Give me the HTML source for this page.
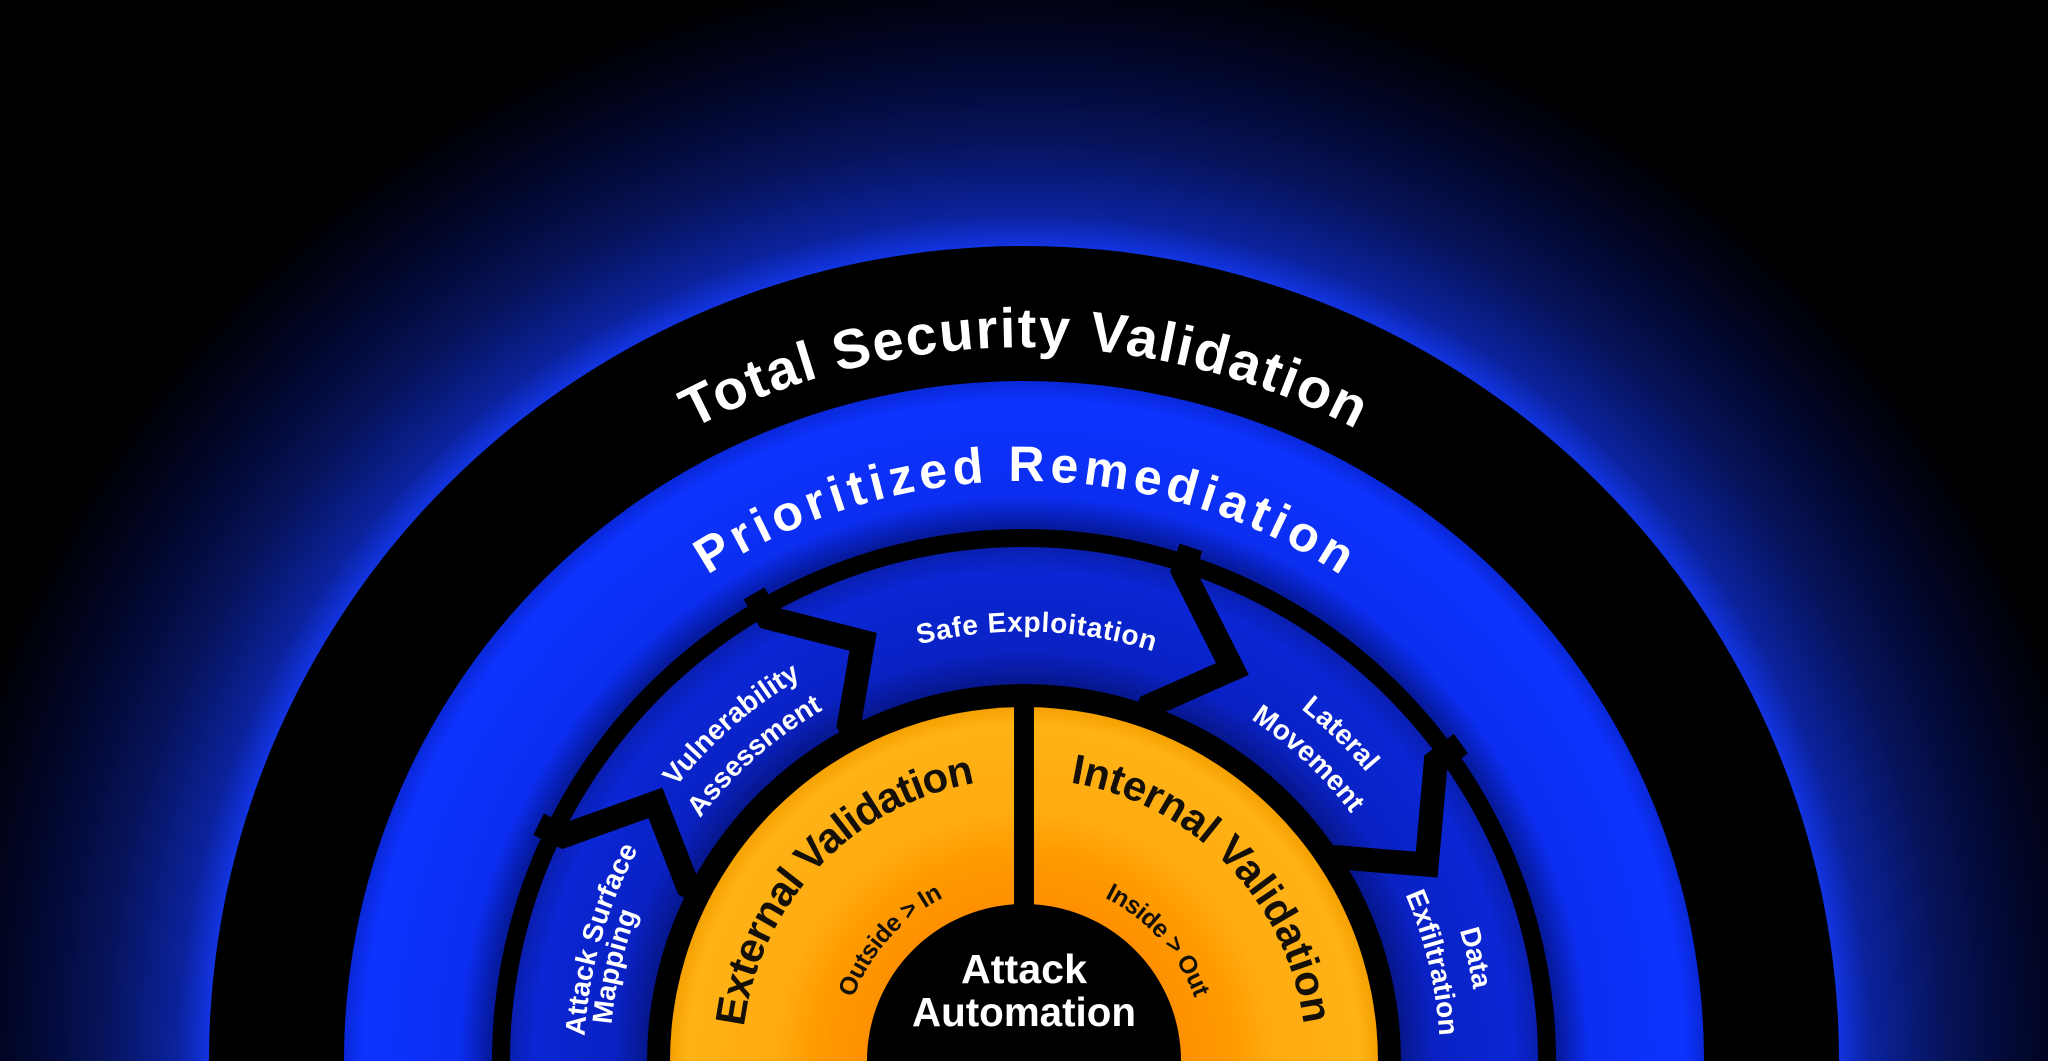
<!DOCTYPE html>
<html><head><meta charset="utf-8"><style>
html,body{margin:0;padding:0;background:#000;overflow:hidden;width:2048px;height:1061px;}
svg{display:block;}
text{font-family:"Liberation Sans",Arial,sans-serif;font-weight:bold;}
</style></head><body>
<svg width="2048" height="1061" viewBox="0 0 2048 1061" xmlns="http://www.w3.org/2000/svg">
<defs>
<radialGradient id="glow" gradientUnits="userSpaceOnUse" cx="1024" cy="1061" r="1100">
<stop offset="0" stop-color="#1234e0"/><stop offset="0.741" stop-color="#1234e0"/>
<stop offset="0.77" stop-color="#0b229c"/><stop offset="0.84" stop-color="#061358"/>
<stop offset="0.92" stop-color="#020628"/><stop offset="1" stop-color="#000"/>
</radialGradient>
<radialGradient id="blue" gradientUnits="userSpaceOnUse" cx="1024" cy="1061" r="680">
<stop offset="0" stop-color="#061a9e"/><stop offset="0.786" stop-color="#061a9e"/>
<stop offset="0.83" stop-color="#0b2ef0"/><stop offset="0.97" stop-color="#0d33ff"/>
<stop offset="1" stop-color="#0a28d8"/>
</radialGradient>
<radialGradient id="band" gradientUnits="userSpaceOnUse" cx="1024" cy="1061" r="514">
<stop offset="0" stop-color="#06168a"/><stop offset="0.73" stop-color="#06168a"/>
<stop offset="0.8" stop-color="#0a22c4"/><stop offset="0.95" stop-color="#0b26d4"/>
<stop offset="1" stop-color="#0a1fb0"/>
</radialGradient>
<radialGradient id="orange" gradientUnits="userSpaceOnUse" cx="1024" cy="1061" r="354">
<stop offset="0" stop-color="#ff9000"/><stop offset="0.44" stop-color="#ff9000"/>
<stop offset="0.6" stop-color="#ff9c00"/><stop offset="0.7" stop-color="#ffab10"/>
<stop offset="0.95" stop-color="#ffb215"/><stop offset="1" stop-color="#f5a000"/>
</radialGradient>
<path id="p714" d="M312.7,1123.3 A714,714 0 1 1 1735.3,1123.3"/>
<path id="p580" d="M446.2,1111.6 A580,580 0 1 1 1601.8,1111.6"/>
<path id="p430" d="M595.6,1098.5 A430,430 0 1 1 1452.4,1098.5"/>
<path id="p443" d="M582.7,1099.6 A443,443 0 1 1 1465.3,1099.6"/>
<path id="p405" d="M620.5,1096.3 A405,405 0 1 1 1427.5,1096.3"/>
<path id="p440" d="M585.7,1099.4 A440,440 0 1 1 1462.3,1099.4"/>
<path id="p414" d="M611.6,1097.1 A414,414 0 1 1 1436.4,1097.1"/>
<path id="p448" d="M577.7,1100.1 A448,448 0 1 1 1470.3,1100.1"/>
<path id="p410" d="M615.6,1096.8 A410,410 0 1 1 1432.4,1096.8"/>
<path id="p455" d="M570.7,1100.7 A455,455 0 1 1 1477.3,1100.7"/>
<path id="p416" d="M609.6,1097.3 A416,416 0 1 1 1438.4,1097.3"/>
<path id="p282" d="M743.1,1085.6 A282,282 0 1 1 1304.9,1085.6"/>
<path id="p182" d="M842.7,1076.9 A182,182 0 1 1 1205.3,1076.9"/>
</defs>
<rect width="2048" height="1061" fill="#000"/>
<circle cx="1024" cy="1061" r="1100" fill="url(#glow)"/>
<circle cx="1024" cy="1061" r="815" fill="#000"/>
<circle cx="1024" cy="1061" r="680" fill="url(#blue)"/>
<circle cx="1024" cy="1061" r="532" fill="#000"/>
<circle cx="1024" cy="1061" r="514" fill="url(#band)"/>
<g fill="none" stroke="#000" stroke-width="24" stroke-linejoin="miter" stroke-miterlimit="10">
<polyline points="538.6,824.3 562.9,836.1 655.4,802.9 687.8,886 704.7,894.8"/>
<polyline points="754,593.4 768,617.6 863.1,641.8 849,724.8 857.8,741.7"/>
<polyline points="1190.9,547.4 1183.1,571.2 1232.5,669 1149.8,705.6 1144.2,721.7"/>
<polyline points="1460.9,743.6 1435.8,761.8 1426.7,864.6 1337.7,857.3 1325.9,865"/>
</g>
<circle cx="1024" cy="1061" r="377" fill="#000"/>
<circle cx="1024" cy="1061" r="354" fill="url(#orange)"/>
<rect x="1014" y="700" width="20" height="220" fill="#000"/>
<circle cx="1024" cy="1061" r="157" fill="#000"/>

<g fill="#fff" text-anchor="middle">
<text font-size="56"><textPath href="#p714" startOffset="1183.8" textLength="690" lengthAdjust="spacing">Total Security Validation</textPath></text>
<text font-size="50"><textPath href="#p580" startOffset="961.7" textLength="670" lengthAdjust="spacing">Prioritized Remediation</textPath></text>
<text font-size="28"><textPath href="#p430" startOffset="725" textLength="238" lengthAdjust="spacing">Safe Exploitation</textPath></text>
<text font-size="28"><textPath href="#p443" startOffset="417.5">Vulnerability</textPath></text>
<text font-size="28"><textPath href="#p405" startOffset="378.2">Assessment</textPath></text>
<text font-size="28"><textPath href="#p440" startOffset="161.3">Attack Surface</textPath></text>
<text font-size="28"><textPath href="#p414" startOffset="130.1">Mapping</textPath></text>
<text font-size="28"><textPath href="#p448" startOffset="1086.9">Lateral</textPath></text>
<text font-size="28"><textPath href="#p410" startOffset="989.7">Movement</textPath></text>
<text font-size="28"><textPath href="#p455" startOffset="1365.9">Data</textPath></text>
<text font-size="28"><textPath href="#p416" startOffset="1245.2">Exfiltration</textPath></text>
<text x="1024" y="983" font-size="41" textLength="126" lengthAdjust="spacingAndGlyphs">Attack</text>
<text x="1024" y="1026" font-size="41" textLength="224" lengthAdjust="spacingAndGlyphs">Automation</text>
</g>
<g fill="#141008" text-anchor="middle">
<text font-size="42"><textPath href="#p282" startOffset="238.7" textLength="360" lengthAdjust="spacing">External Validation</textPath></text>
<text font-size="42"><textPath href="#p282" startOffset="694" textLength="360" lengthAdjust="spacing">Internal Validation</textPath></text>
<text font-size="25"><textPath href="#p182" startOffset="149.3" textLength="138" lengthAdjust="spacing">Outside &gt; In</textPath></text>
<text font-size="25"><textPath href="#p182" startOffset="454.2" textLength="138" lengthAdjust="spacing">Inside &gt; Out</textPath></text>
</g>
</svg>
</body></html>
